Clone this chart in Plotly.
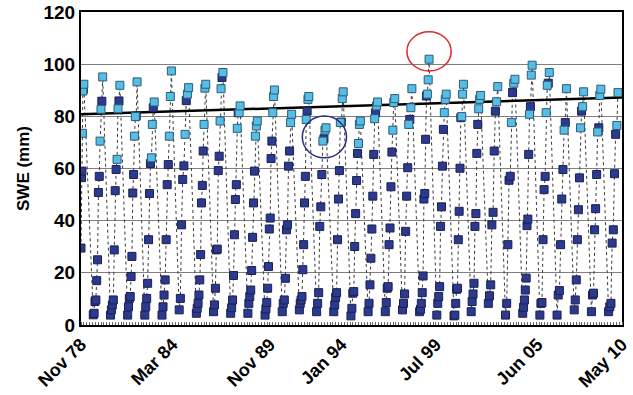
import datetime as dt
import plotly.graph_objects as go

# ---- data ----
# one season per year; season 0 starts at the axis origin (Nov 1978)
season_start = [dt.date(1978, 11, 1)] + [dt.date(1978 + k, 7, 20) for k in range(1, 32)]
season_span_days = [60] + [200] * 31

dark_swe = [
    [29.5, 56.5, 59.0, 90.4],
    [3.9, 4.5, 9.0, 9.6, 17.0, 25.0, 50.8, 57.0, 85.8],
    [3.8, 5.8, 7.7, 9.6, 28.8, 51.5, 59.6, 85.9],
    [3.8, 7.0, 10.2, 10.9, 18.6, 26.3, 50.6, 57.7, 80.1],
    [3.8, 7.0, 10.2, 16.0, 32.7, 50.4, 61.9, 83.3],
    [3.8, 7.0, 11.5, 17.3, 32.7, 53.8, 61.5],
    [5.8, 10.2, 38.4, 55.8, 61.0, 86.0],
    [4.5, 6.4, 8.3, 11.5, 17.3, 27.0, 46.8, 53.5, 66.7],
    [5.1, 7.7, 14.1, 28.8, 29.1, 59.2, 64.7, 94.9],
    [4.5, 6.6, 9.6, 19.0, 34.6, 48.1, 53.8, 81.4],
    [4.5, 8.3, 10.9, 13.4, 20.9, 33.6, 46.8, 59.0],
    [3.8, 6.2, 8.6, 14.1, 22.4, 36.8, 41.0, 63.8, 70.5],
    [5.1, 8.3, 9.6, 17.9, 36.5, 38.4, 60.9, 66.7],
    [5.8, 8.3, 9.6, 10.9, 21.2, 30.8, 46.8, 57.0, 82.0],
    [5.1, 8.3, 12.4, 37.8, 45.3, 57.7, 71.4],
    [5.1, 7.7, 10.6, 12.4, 32.7, 48.3, 59.2, 77.8],
    [3.5, 6.4, 12.2, 12.8, 30.1, 42.7, 55.4, 65.8],
    [5.1, 8.3, 15.4, 25.6, 36.8, 49.4, 65.4, 81.4],
    [5.1, 8.6, 14.1, 14.7, 30.8, 37.2, 53.0, 66.3],
    [5.8, 8.3, 11.9, 35.9, 49.4, 60.3, 78.8],
    [5.1, 6.0, 8.3, 12.4, 18.8, 48.3, 50.4, 71.2, 87.8],
    [3.8, 8.3, 10.9, 14.7, 37.8, 45.3, 60.9, 75.0],
    [3.5, 3.8, 8.3, 13.7, 14.1, 32.7, 43.6, 60.1, 79.5],
    [5.1, 9.0, 11.9, 16.0, 37.8, 42.7, 65.8, 76.9],
    [8.3, 11.2, 15.4, 38.4, 43.2, 66.7, 82.0],
    [3.8, 8.3, 30.8, 55.5, 57.0, 89.1],
    [4.5, 6.8, 9.6, 13.4, 18.0, 38.1, 40.6, 65.4, 83.7],
    [3.8, 8.3, 8.6, 32.7, 51.9, 57.0, 92.7],
    [3.8, 11.5, 13.2, 30.8, 48.3, 59.6, 77.6],
    [5.8, 9.6, 17.3, 32.7, 44.2, 56.4, 82.0],
    [5.1, 11.5, 12.2, 36.5, 44.6, 57.7, 75.6],
    [5.1, 7.0, 8.3, 31.4, 36.5, 58.0, 73.1],
]

light_swe = [
    [73.5, 89.7, 92.3],
    [70.5, 82.7, 95.1],
    [63.5, 82.9, 91.9],
    [72.4, 79.9, 93.2],
    [64.1, 76.9, 85.5],
    [72.4, 87.6, 97.4],
    [73.1, 88.5, 91.0],
    [76.9, 90.8, 92.3],
    [78.2, 90.6, 96.8],
    [75.4, 81.4, 84.0],
    [72.4, 76.3, 78.2],
    [81.4, 87.6, 90.1],
    [77.6, 80.8],
    [78.8, 86.5, 87.6],
    [70.5, 74.7, 75.6],
    [77.6, 86.8, 89.4],
    [69.6, 76.9, 78.2],
    [79.1, 84.0, 85.5],
    [74.7, 85.3, 86.8],
    [76.9, 83.3, 90.6],
    [88.5, 94.0, 101.9],
    [81.4, 86.5, 88.5],
    [79.9, 88.5, 92.3],
    [82.9, 86.5, 88.0],
    [85.6, 91.4],
    [77.6, 92.7, 94.2],
    [80.8, 95.8, 99.6],
    [81.4, 91.9, 96.8],
    [74.7, 90.6],
    [75.6, 83.7, 89.4],
    [74.0, 88.0, 90.4],
    [76.5, 89.1],
]

trend_dates = [dt.date(1978, 11, 1), dt.date(2010, 5, 1)]
trend_swe = [80.8, 87.2]

tick_dates = [dt.date(1978, 11, 1), dt.date(1984, 3, 1), dt.date(1989, 11, 1),
              dt.date(1994, 1, 1), dt.date(1999, 7, 1), dt.date(2005, 6, 1),
              dt.date(2010, 5, 1)]
tick_text = ["Nov 78", "Mar 84", "Nov 89", "Jan 94", "Jul 99", "Jun 05", "May 10"]
y_ticks = [0, 20, 40, 60, 80, 100, 120]

highlight_red_season = 20
highlight_blue_season = 14

# ---- build chronological series ----
all_x, all_y = [], []
dark_x, dark_y, light_x, light_y = [], [], [], []
light_pts_by_season = []
for k in range(len(season_start)):
    pts = [(v, "d") for v in dark_swe[k]] + [(v, "l") for v in light_swe[k]]
    pts.sort(key=lambda p: p[0])
    n = len(pts)
    step = season_span_days[k] / (n - 1)
    lp = []
    for i, (v, kind) in enumerate(pts):
        d = season_start[k] + dt.timedelta(days=round(i * step))
        all_x.append(d)
        all_y.append(v)
        if kind == "d":
            dark_x.append(d); dark_y.append(v)
        else:
            light_x.append(d); light_y.append(v); lp.append((d, v))
    light_pts_by_season.append(lp)

FONT = "Liberation Sans, Arial, sans-serif"

fig = go.Figure()
fig.add_trace(go.Scatter(x=all_x, y=all_y, mode="lines",
                         line=dict(color="#3a3a3a", width=1, dash="dot"),
                         hoverinfo="skip", showlegend=False))
fig.add_trace(go.Scatter(x=trend_dates, y=trend_swe, mode="lines",
                         line=dict(color="black", width=2.5), showlegend=False))
fig.add_trace(go.Scatter(x=dark_x, y=dark_y, mode="markers",
                         marker=dict(symbol="square", size=8, color="#2b3a8f",
                                     line=dict(color="#1b2050", width=1)),
                         showlegend=False))
fig.add_trace(go.Scatter(x=light_x, y=light_y, mode="markers",
                         marker=dict(symbol="square", size=8, color="#55bde6",
                                     line=dict(color="#2d5d74", width=1)),
                         showlegend=False))

# highlight circles derived from the data
red_d, red_v = max(light_pts_by_season[highlight_red_season], key=lambda p: p[1])
fig.add_shape(type="circle", xref="x", yref="y",
              x0=red_d - dt.timedelta(days=470), x1=red_d + dt.timedelta(days=470),
              y0=red_v - 4.5, y1=red_v + 10.5,
              line=dict(color="#e0262b", width=1.5))
bl = light_pts_by_season[highlight_blue_season]
bd = bl[0][0] + (bl[-1][0] - bl[0][0]) / 2
bv = sum(p[1] for p in bl) / len(bl) - 1.5
fig.add_shape(type="circle", xref="x", yref="y",
              x0=bd - dt.timedelta(days=470), x1=bd + dt.timedelta(days=470),
              y0=bv - 8.0, y1=bv + 8.0,
              line=dict(color="#2a2a7e", width=1.5))

fig.update_layout(
    width=633, height=395,
    margin=dict(l=81, r=11, t=12, b=70),
    paper_bgcolor="white", plot_bgcolor="white",
    font=dict(family=FONT, color="black"),
    showlegend=False,
)
fig.update_xaxes(
    type="date", automargin=False,
    range=[trend_dates[0], trend_dates[1]],
    tickvals=tick_dates, ticktext=tick_text,
    tickangle=-45, tickfont=dict(size=18, family=FONT, weight="bold"),
    showgrid=False, zeroline=False,
    showline=True, linecolor="black", linewidth=2, mirror=True,
    ticks="", minor=dict(dtick="M2", ticks="inside", ticklen=3, tickcolor="#666", showgrid=False),
)
fig.update_yaxes(
    automargin=False,
    range=[0, 120], tickvals=y_ticks,
    tickfont=dict(size=19, family=FONT, weight="bold"),
    showgrid=True, gridcolor="#808080", gridwidth=1, zeroline=False,
    showline=True, linecolor="black", linewidth=2, mirror=True,
    title=dict(text="SWE (mm)", font=dict(size=17, family=FONT, weight="bold"), standoff=10),
    ticks="",
)

fig.write_html("out.html")
